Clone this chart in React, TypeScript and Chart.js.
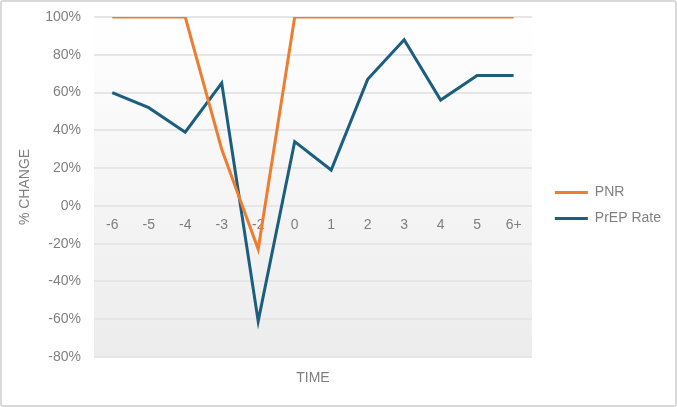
import React, { useEffect, useRef } from 'react';
import { Chart, registerables } from 'chart.js';

Chart.register(...registerables);

const timeLabels = ['-6', '-5', '-4', '-3', '-2', '0', '1', '2', '3', '4', '5', '6+'];
const pnrValues = [100, 100, 100, 30, -23, 100, 100, 100, 100, 100, 100, 100];
const prepRateValues = [60, 52, 39, 65, -61, 34, 19, 67, 88, 56, 69, 69];
const seriesNames = ['PNR', 'PrEP Rate'];
const yMin = -80;
const yMax = 100;
const yStep = 20;

const TEXT = '#7f7f7f';
const ORANGE = '#ED7D31';
const BLUE = '#1B5E7D';
const LEGEND_GAP = 11;

const plotBg = {
  id: 'plotBg',
  beforeDraw(chart: any) {
    const { ctx, chartArea: a } = chart;
    if (!a) return;
    const g = ctx.createLinearGradient(0, a.top, 0, a.bottom);
    g.addColorStop(0, '#ffffff');
    g.addColorStop(1, '#ececec');
    ctx.save();
    ctx.fillStyle = g;
    ctx.fillRect(a.left, a.top, a.right - a.left, a.bottom - a.top);
    ctx.restore();
  },
};

// Leave a gap between the plot area and the legend.
const legendGap = {
  id: 'legendGap',
  beforeLayout(chart: any) {
    const lg = chart.legend;
    if (lg && !lg.__gapPatched) {
      const origFit = lg.fit;
      lg.fit = function () {
        origFit.call(this);
        this.width += LEGEND_GAP;
      };
      lg.__gapPatched = true;
    }
  },
  afterLayout(chart: any) {
    const lg = chart.legend;
    if (lg) {
      lg.left += LEGEND_GAP;
      lg.right += LEGEND_GAP;
    }
  },
};

export default function App() {
  const ref = useRef<HTMLCanvasElement>(null);
  useEffect(() => {
    if (!ref.current) return;
    Chart.defaults.font.family = '"Liberation Sans", Arial, sans-serif';
    Chart.defaults.font.size = 14;
    Chart.defaults.color = TEXT;
    const chart = new Chart(ref.current, {
      type: 'line',
      data: {
        labels: timeLabels,
        datasets: [
          {
            label: seriesNames[0],
            data: pnrValues,
            borderColor: ORANGE,
            backgroundColor: ORANGE,
            borderWidth: 3,
            pointRadius: 0,
            tension: 0,
            fill: false,
            xAxisID: 'x',
            yAxisID: 'y',
          },
          {
            label: seriesNames[1],
            data: prepRateValues,
            borderColor: BLUE,
            backgroundColor: BLUE,
            borderWidth: 3,
            pointRadius: 0,
            tension: 0,
            fill: false,
            xAxisID: 'x',
            yAxisID: 'y',
          },
        ],
      },
      options: {
        animation: false,
        responsive: false,
        layout: { padding: { top: 4, right: 4, bottom: 0, left: 0 } },
        plugins: {
          tooltip: { enabled: false },
          legend: {
            position: 'right',
            align: 'center',
            labels: {
              usePointStyle: true,
              pointStyle: 'line',
              pointStyleWidth: 33,
              padding: 12,
              color: TEXT,
              font: { size: 14 },
            },
          },
        },
        scales: {
          x: {
            axis: 'x',
            type: 'category',
            position: { y: 0 },
            offset: true,
            grid: { display: false },
            border: { display: false },
            ticks: { padding: 3, color: TEXT, font: { size: 14 }, autoSkip: false, maxRotation: 0 },
          },
          xTop: {
            axis: 'x',
            type: 'category',
            position: 'top',
            offset: true,
            grid: { display: false },
            border: { display: false },
            ticks: { display: false },
            afterFit(s: any) { s.height = 11; },
          },
          xTitle: {
            axis: 'x',
            type: 'category',
            position: 'bottom',
            offset: true,
            grid: { display: false },
            border: { display: false },
            ticks: { display: false },
            title: { display: true, text: 'TIME', color: TEXT, font: { size: 14 }, padding: { top: 0, bottom: 18 } },
            afterFit(s: any) { s.height = 48; },
          },
          y: {
            axis: 'y',
            type: 'linear',
            position: 'left',
            min: yMin,
            max: yMax,
            grid: { color: '#e6e6e6', lineWidth: 2, drawTicks: true, tickLength: 10, tickColor: 'rgba(0,0,0,0)' },
            border: { display: false },
            ticks: {
              stepSize: yStep,
              padding: 3,
              color: TEXT,
              font: { size: 14 },
              callback: (v: any) => v + '%',
            },
            title: { display: true, text: '% CHANGE', color: TEXT, font: { size: 14 }, padding: { top: 15, bottom: 0 } },
            afterFit(s: any) { s.width = 92; },
          },
        },
      },
      plugins: [plotBg, legendGap],
    } as any);
    return () => chart.destroy();
  }, []);
  return (
    <div
      style={{
        position: 'absolute',
        left: 0,
        top: 0,
        width: 677,
        height: 407,
        boxSizing: 'border-box',
        border: '2px solid #d9d9d9',
        borderRadius: 3,
        background: '#ffffff',
      }}
    >
      <canvas ref={ref} width={673} height={403} style={{ display: 'block' }} />
    </div>
  );
}
